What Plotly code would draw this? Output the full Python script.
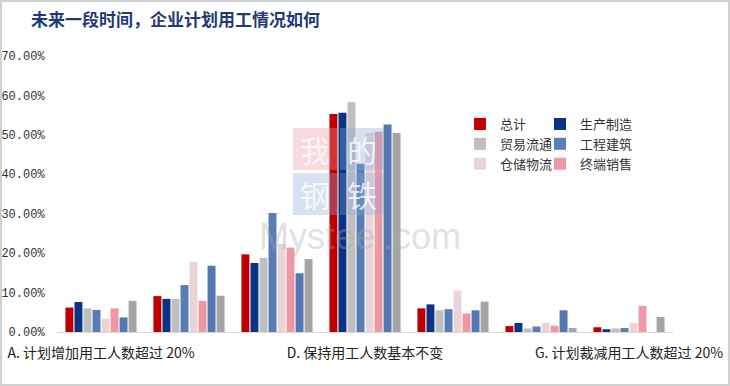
import plotly.graph_objects as go

categories = [
    "A. 计划增加用工人数超过 20%",
    "B. 计划增加用工人数 10%-20%",
    "C. 计划增加用工人数 10%以内",
    "D. 保持用工人数基本不变",
    "E. 计划裁减用工人数 10%以内",
    "F. 计划裁减用工人数 10%-20%",
    "G. 计划裁减用工人数超过 20%",
]
shown_ticks = [categories[0], categories[3], categories[6]]

series_names = ["总计", "生产制造", "贸易流通", "工程建筑", "仓储物流", "终端销售", "其他行业", "其他"]
total = [0.062, 0.091, 0.197, 0.553, 0.060, 0.015, 0.012]
manufacturing = [0.076, 0.084, 0.175, 0.556, 0.070, 0.023, 0.007]
trade = [0.060, 0.084, 0.188, 0.583, 0.055, 0.009, 0.009]
construction = [0.056, 0.119, 0.302, 0.427, 0.058, 0.014, 0.010]
warehousing = [0.034, 0.178, 0.224, 0.505, 0.105, 0.023, 0.023]
retail = [0.060, 0.079, 0.214, 0.508, 0.047, 0.016, 0.066]
other_industry = [0.037, 0.168, 0.149, 0.526, 0.055, 0.055, 0.0]
other = [0.079, 0.092, 0.185, 0.505, 0.077, 0.010, 0.038]
series_values = [total, manufacturing, trade, construction, warehousing, retail, other_industry, other]
colors = ["#C00000", "#0B3384", "#BFBFBF", "#5B7DB6", "#EBD4D8", "#EF97A2", "#5676B2", "#A5A5A5"]
legend_ids = ["legend", "legend2", "legend", "legend2", "legend", "legend2", None, None]

W, H = 730, 386
ML, MR, MT, MB = 57, 57, 56, 54
PW, PH = W - ML - MR, H - MT - MB

fig = go.Figure()
for name, vals, col, lg in zip(series_names, series_values, colors, legend_ids):
    kw = dict(x=categories, y=vals, name=name, marker=dict(color=col, line=dict(width=0)))
    if lg is None:
        kw["showlegend"] = False
    else:
        kw["legend"] = lg
    fig.add_trace(go.Bar(**kw))

def px_x(p):
    return (p - ML) / PW

def px_y(p):
    return (H - MB - p) / PH

leg_font = dict(family="Noto Sans CJK SC", size=13, color="#333333")
fig.update_layout(
    width=W, height=H,
    margin=dict(l=ML, r=MR, t=MT, b=MB, autoexpand=False),
    paper_bgcolor="white", plot_bgcolor="white",
    barmode="group", bargap=0.18, bargroupgap=0.12,
    title=dict(text="<b>未来一段时间，企业计划用工情况如何</b>", x=31 / W, xanchor="left", xref="container",
               y=1 - 20 / H, yanchor="middle", yref="container",
               font=dict(family="Noto Sans CJK SC", size=17, color="#1F3A7A")),
    legend=dict(x=px_x(460), y=px_y(109), xanchor="left", yanchor="top", bgcolor="rgba(0,0,0,0)",
                font=leg_font, tracegroupgap=0),
    legend2=dict(x=px_x(540), y=px_y(109), xanchor="left", yanchor="top", bgcolor="rgba(0,0,0,0)",
                 font=leg_font, tracegroupgap=0),
    xaxis=dict(tickmode="array", tickvals=shown_ticks, ticktext=shown_ticks, tickangle=0, automargin=False,
               showline=True, linecolor="#D9D9D9", linewidth=1, ticks="outside", ticklen=8,
               tickcolor="rgba(0,0,0,0)", showgrid=False,
               tickfont=dict(family="Noto Sans CJK SC", size=14, color="#222222")),
    yaxis=dict(range=[0, 0.7], dtick=0.1, tickformat=".2%", showgrid=False, zeroline=False, automargin=False,
               showline=False, ticks="outside", ticklen=9, tickcolor="rgba(0,0,0,0)",
               tickfont=dict(family="Liberation Mono", size=12, color="#333333")),
    showlegend=True,
)

# watermark
wm = [("我", 293, 128, "rgba(240,150,160,0.35)"), ("的", 340, 128, "rgba(140,170,215,0.35)"),
      ("钢", 293, 173, "rgba(140,170,215,0.35)"), ("铁", 340, 173, "rgba(140,170,215,0.30)")]
for ch, x0, y0, fc in wm:
    fig.add_shape(type="rect", xref="paper", yref="paper", x0=px_x(x0), x1=px_x(x0 + 44),
                  y0=px_y(y0 + 42), y1=px_y(y0), fillcolor=fc, line=dict(width=0), layer="above")
    fig.add_annotation(text=ch, xref="paper", yref="paper", x=px_x(x0 + 22), y=px_y(y0 + 21),
                       showarrow=False, font=dict(family="Noto Sans CJK SC", size=30,
                                                  color="rgba(255,255,255,0.75)"))
fig.add_annotation(text="Mysteel.com", xref="paper", yref="paper", x=px_x(360), y=px_y(236),
                   showarrow=False, font=dict(family="Liberation Sans", size=36, color="rgba(170,170,170,0.35)"))

# frame
fig.add_shape(type="rect", xref="paper", yref="paper", x0=px_x(1), x1=px_x(W - 1), y0=px_y(H - 1), y1=px_y(1),
              line=dict(color="#D0D0D0", width=2), fillcolor="rgba(0,0,0,0)")

fig.write_html("out.html", config={"displayModeBar": False},
               post_script="document.body.style.margin='0';document.body.style.overflow='hidden';")
